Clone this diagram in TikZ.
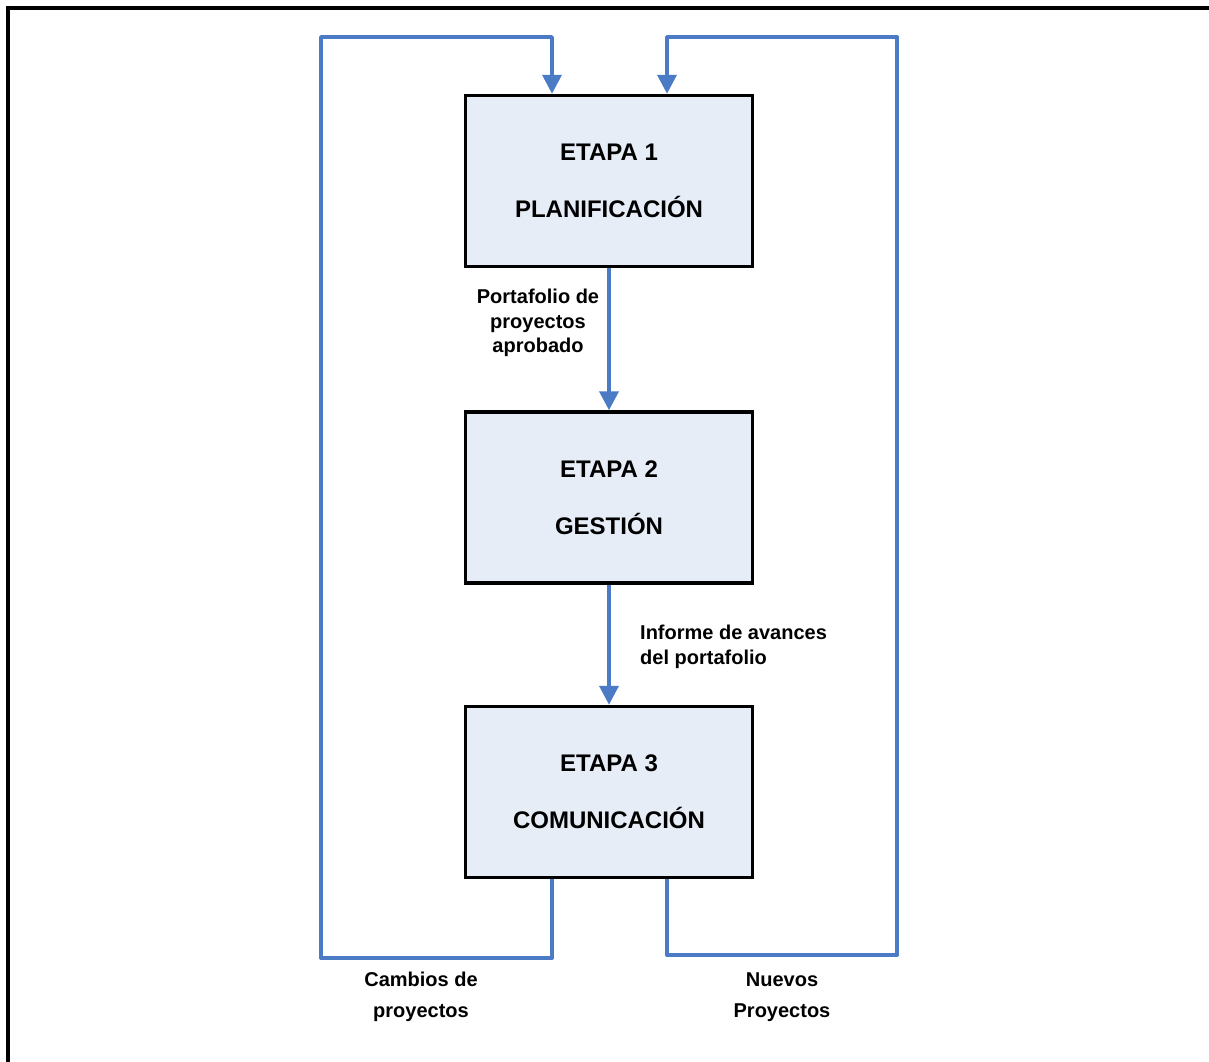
\documentclass[tikz,border=0pt]{standalone}
\usepackage{fontspec}
\setmainfont{Liberation Sans}
\usetikzlibrary{arrows.meta}
\definecolor{flowblue}{HTML}{4A7BC4}
\definecolor{stagefill}{HTML}{E7EDF7}
\begin{document}
\begin{tikzpicture}[x=1pt,y=-1pt,
  stagebox/.style={draw=black,line width=3.5pt,fill=stagefill,
    minimum width=287pt,minimum height=171pt,align=center,
    font=\fontsize{24}{28}\selectfont\bfseries},
  flow/.style={draw=flowblue,line width=3.8pt},
  flowarrow/.style={flow,-{Triangle[length=19pt,width=19pt]}},
  lbl/.style={font=\fontsize{20}{24.5}\selectfont\bfseries,inner sep=0pt},
  lblwide/.style={font=\fontsize{20}{31}\selectfont\bfseries,inner sep=0pt,align=center}]
  \useasboundingbox (0,0) rectangle (1209,1061);
  % open frame: left and top edges only
  \draw[line width=4.5pt,line cap=rect] (8,1061) -- (8,8) -- (1209,8);

  % stages
  \node[stagebox] (b1) at (609,181) {\raisebox{0pt}[0pt][0pt]{}ETAPA 1\\[29pt]PLANIFICACIÓN};
  \node[stagebox] (b2) at (609,497.5) {ETAPA 2\\[29pt]GESTIÓN};
  \node[stagebox] (b3) at (609,792) {ETAPA 3\\[29pt]COMUNICACIÓN};

  % guide coordinates for the feedback loops
  \coordinate (cl) at (552,0);
  \coordinate (cr) at (667,0);
  \coordinate (lbot) at (321,958);
  \coordinate (ltop) at (321,37);
  \coordinate (rbot) at (897,955);
  \coordinate (rtop) at (897,37);

  % main flow
  \draw[flowarrow] (b1.south) -- (b2.north);
  \draw[flowarrow] (b2.south) -- (b3.north);

  % feedback loops
  \draw[flowarrow,line join=round] (b3.south -| cl) |- (lbot) -- (ltop) -| (b1.north -| cl);
  \draw[flowarrow,line join=round] (b3.south -| cr) |- (rbot) -- (rtop) -| (b1.north -| cr);

  % labels
  \node[lbl,align=center] (l1) at (538,323) {Portafolio de\\proyectos\\aprobado};
  \node[lbl,align=left,anchor=west] (l2) at (640,647) {Informe de avances\\del portafolio};
  \node[lblwide] (l3) at (421,997) {Cambios de\\proyectos};
  \node[lblwide] (l4) at (782,997) {Nuevos\\Proyectos};
\end{tikzpicture}
\end{document}
